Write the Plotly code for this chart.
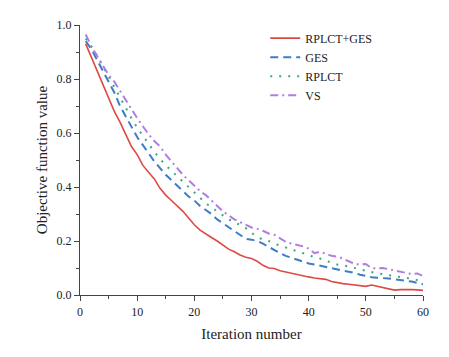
import plotly.graph_objects as go

iterations = list(range(1, 61))

rplct_ges = [0.93, 0.88, 0.83, 0.78, 0.73, 0.68, 0.64, 0.595, 0.55, 0.52,
             0.48, 0.455, 0.43, 0.395, 0.37, 0.35, 0.33, 0.31, 0.285, 0.26,
             0.24, 0.225, 0.213, 0.2, 0.185, 0.17, 0.16, 0.148, 0.14, 0.135,
             0.125, 0.11, 0.1, 0.098, 0.09, 0.085, 0.08, 0.076, 0.072, 0.067,
             0.063, 0.06, 0.058, 0.05, 0.045, 0.042, 0.04, 0.037, 0.034, 0.032,
             0.037, 0.032, 0.027, 0.022, 0.018, 0.02, 0.021, 0.02, 0.019, 0.017]

ges = [0.94, 0.91, 0.87, 0.83, 0.79, 0.75, 0.7, 0.66, 0.62, 0.585,
       0.555, 0.525, 0.495, 0.47, 0.445, 0.425, 0.405, 0.385, 0.365, 0.35,
       0.33, 0.315, 0.3, 0.28, 0.265, 0.25, 0.235, 0.22, 0.208, 0.205,
       0.2, 0.19, 0.178, 0.165, 0.155, 0.145, 0.138, 0.13, 0.122, 0.117,
       0.113, 0.108, 0.103, 0.098, 0.093, 0.09, 0.086, 0.082, 0.075, 0.07,
       0.066, 0.064, 0.063, 0.061, 0.058, 0.056, 0.053, 0.05, 0.045, 0.04]

rplct = [0.95, 0.92, 0.885, 0.85, 0.81, 0.77, 0.73, 0.69, 0.655, 0.62,
         0.59, 0.56, 0.53, 0.505, 0.48, 0.46, 0.44, 0.42, 0.4, 0.38,
         0.36, 0.34, 0.325, 0.31, 0.295, 0.28, 0.27, 0.26, 0.248, 0.23,
         0.215, 0.205, 0.2, 0.19, 0.183, 0.178, 0.17, 0.163, 0.155, 0.148,
         0.14, 0.135, 0.127, 0.12, 0.113, 0.11, 0.105, 0.1, 0.095, 0.088,
         0.083, 0.08, 0.077, 0.074, 0.07, 0.066, 0.063, 0.06, 0.055, 0.048]

vs = [0.965, 0.92, 0.885, 0.85, 0.815, 0.79, 0.755, 0.72, 0.685, 0.655,
      0.625, 0.595, 0.57, 0.55, 0.52, 0.495, 0.47, 0.445, 0.425, 0.405,
      0.385, 0.37, 0.35, 0.33, 0.31, 0.295, 0.28, 0.27, 0.26, 0.25,
      0.245, 0.238, 0.228, 0.223, 0.21, 0.197, 0.19, 0.186, 0.18, 0.172,
      0.155, 0.16, 0.153, 0.145, 0.142, 0.135, 0.125, 0.115, 0.113, 0.115,
      0.1, 0.098, 0.1, 0.095, 0.09, 0.086, 0.082, 0.078, 0.08, 0.07]

series_names = ["RPLCT+GES", "GES", "RPLCT", "VS"]
x_ticks = [0, 10, 20, 30, 40, 50, 60]
y_ticks = [0.0, 0.2, 0.4, 0.6, 0.8, 1.0]

FONT = "Liberation Serif"

fig = go.Figure()
styles = [
    (rplct_ges, "#dd4a45", "solid", 1.6),
    (ges, "#3d7cc6", "8px,5px", 2),
    (rplct, "#3aa97a", "2px,7px", 2),
    (vs, "#b07ee0", "8px,4px,2px,4px", 2),
]
for name, (vals, col, dash, w) in zip(series_names, styles):
    fig.add_trace(go.Scatter(x=iterations, y=vals, mode="lines", name=name,
                             line=dict(color=col, dash=dash, width=w)))

axis_common = dict(
    showgrid=False, zeroline=False, showline=True, linecolor="#444", linewidth=1.2,
    ticks="outside", ticklen=5, tickwidth=1, tickcolor="#444",
    tickfont=dict(family=FONT, size=12, color="#222"),
    minor=dict(ticks="outside", ticklen=3, tickwidth=1, tickcolor="#444"),
)
fig.update_xaxes(range=[0, 60], tickvals=x_ticks,
                 minor_dtick=5,
                 title=dict(text="Iteration number", font=dict(family=FONT, size=15, color="#222"), standoff=10),
                 **axis_common)
fig.update_yaxes(range=[0, 1], tickvals=y_ticks, tickformat=".1f",
                 minor_dtick=0.1,
                 title=dict(text="Objective function value", font=dict(family=FONT, size=15, color="#222"), standoff=5),
                 **axis_common)

fig.update_layout(
    width=449, height=357,
    margin=dict(l=72, r=34, t=10, b=70),
    paper_bgcolor="white", plot_bgcolor="white",
    font=dict(family=FONT, color="#222"),
    legend=dict(x=0.54, y=1.005, xanchor="left", yanchor="top",
                bgcolor="rgba(0,0,0,0)", font=dict(family=FONT, size=12, color="#222"),
                tracegroupgap=0, itemwidth=30),
)

fig.write_html("out.html")
